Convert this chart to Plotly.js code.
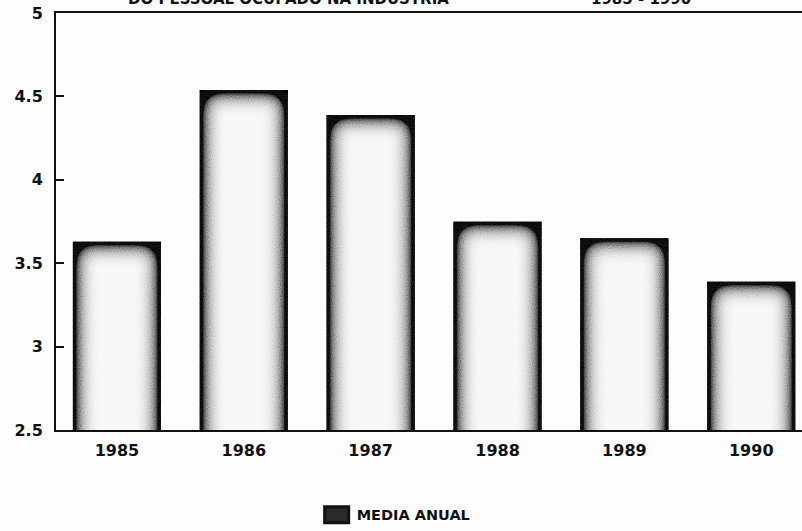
<!DOCTYPE html>
<html>
<head>
<meta charset="utf-8">
<script src="https://cdn.plot.ly/plotly-3.0.1.min.js"></script>
<style>
  html, body { margin: 0; padding: 0; background: #fdfdfd; }
  #chart { width: 802px; height: 531px; }
</style>
</head>
<body>
<div id="chart"></div>
<script>
const years = ['1985', '1986', '1987', '1988', '1989', '1990'];
const mediaAnual = [3.62, 4.53, 4.38, 3.74, 3.64, 3.38];
const seriesName = 'MEDIA ANUAL';
const titleMain = 'DO PESSOAL OCUPADO NA INDUSTRIA';
const titleYears = '1985 - 1990';
const yTickVals = [2.5, 3, 3.5, 4, 4.5, 5];
const yTickText = ['2.5', '3', '3.5', '4', '4.5', '5'];

const fam = 'DejaVu Sans, Liberation Sans, Arial, sans-serif';
const boldFont = { family: fam, size: 16, color: '#111', weight: 'bold' };

const trace = {
  type: 'bar',
  x: years,
  y: mediaAnual,
  name: seriesName,
  showlegend: true,
  marker: { color: '#f8f8f8', line: { color: '#151515', width: 3 } },
  hoverinfo: 'x+y'
};

const layout = {
  width: 802,
  height: 531,
  paper_bgcolor: '#fdfdfd',
  plot_bgcolor: '#fdfdfd',
  margin: { l: 56, r: 0, t: 13, b: 98, pad: 0 },
  bargap: 0.33,
  showlegend: true,
  legend: {
    orientation: 'h', x: 0.456, xanchor: 'center', y: -0.165, yanchor: 'top',
    font: { family: fam, size: 14.5, color: '#111', weight: 'bold' },
    bgcolor: 'rgba(0,0,0,0)'
  },
  xaxis: {
    type: 'category',
    range: [-0.48, 5.40],
    showline: true, linecolor: '#111', linewidth: 2, mirror: true,
    ticks: '', showgrid: false, zeroline: false,
    tickfont: boldFont, ticklabelstandoff: 5
  },
  yaxis: {
    range: [2.5, 5],
    tickvals: yTickVals, ticktext: yTickText,
    showline: true, linecolor: '#111', linewidth: 2,
    ticks: 'inside', ticklen: 8, tickwidth: 2, tickcolor: '#111',
    showgrid: false, zeroline: false,
    tickfont: boldFont, ticklabelstandoff: 8
  },
  annotations: [
    {
      text: titleMain, xref: 'paper', yref: 'paper', x: (288 - 56) / 746, y: 1.0072,
      xanchor: 'center', yanchor: 'bottom', showarrow: false,
      font: { family: fam, size: 15, color: '#111', weight: 'bold' }
    },
    {
      text: titleYears, xref: 'paper', yref: 'paper', x: (641 - 56) / 746, y: 1.0072,
      xanchor: 'center', yanchor: 'bottom', showarrow: false,
      font: { family: fam, size: 15, color: '#111', weight: 'bold' }
    }
  ]
};

Plotly.newPlot('chart', [trace], layout, { displayModeBar: false, staticPlot: true }).then(function (gd) {
  const svg = gd.querySelector('svg.main-svg');
  const ns = 'http://www.w3.org/2000/svg';
  let defs = svg.querySelector('defs');
  if (!defs) { defs = document.createElementNS(ns, 'defs'); svg.insertBefore(defs, svg.firstChild); }
  defs.insertAdjacentHTML('beforeend',
    '<filter id="innerShade" x="-30%" y="-30%" width="160%" height="160%">' +
      '<feFlood flood-color="#141414" result="flood"/>' +
      '<feComposite in="flood" in2="SourceAlpha" operator="out" result="outside"/>' +
      '<feGaussianBlur in="outside" stdDeviation="11" result="blur"/>' +
      '<feComponentTransfer in="blur" result="blurStrong"><feFuncA type="linear" slope="2.6" intercept="0"/></feComponentTransfer>' +
      '<feComposite in="blurStrong" in2="SourceAlpha" operator="in" result="shadow"/>' +
      '<feTurbulence type="fractalNoise" baseFrequency="0.9" numOctaves="1" seed="3" result="noise"/>' +
      '<feColorMatrix in="noise" type="matrix" values="0 0 0 0 0  0 0 0 0 0  0 0 0 0 0  0 0 0 -2.0 1.2" result="grain"/>' +
      '<feComposite in="grain" in2="shadow" operator="in" result="grainShadow"/>' +
      '<feMerge><feMergeNode in="SourceGraphic"/><feMergeNode in="shadow"/><feMergeNode in="grainShadow"/></feMerge>' +
    '</filter>');
  gd.querySelectorAll('.bars .point path').forEach(function (p) {
    p.setAttribute('filter', 'url(#innerShade)');
  });
  gd.querySelectorAll('.legend .legendpoints path').forEach(function (p) {
    p.setAttribute('d', 'M12,8H-12V-8H12Z');
    p.style.fill = '#2a2a2a';
    p.style.stroke = '#111';
  });
});
</script>
</body>
</html>
